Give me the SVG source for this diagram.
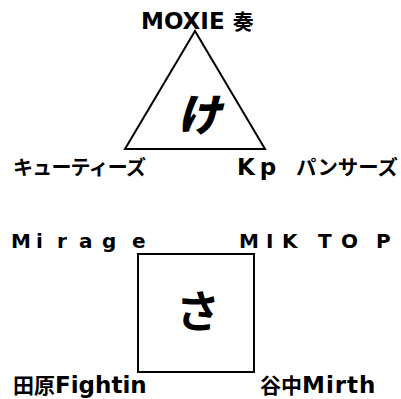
<svg xmlns="http://www.w3.org/2000/svg" width="401" height="399" viewBox="0 0 401 399">
<style>
.lbl{font-family:"DejaVu Sans","Noto Sans CJK JP",sans-serif;font-weight:bold;font-size:23px;fill:#000}
.cjk{font-family:"Noto Sans CJK JP",sans-serif;font-size:21px}
.sp{font-size:20px}
.big{font-family:"Noto Sans CJK JP",sans-serif;font-weight:900;font-size:44px;fill:#000;text-anchor:middle}
.shape{fill:none;stroke:#000;stroke-width:2}
</style>
<rect width="401" height="399" fill="#fff"/>
<g id="connectors"/>
<g id="triangle">
<polygon class="shape" points="195,31 125,149 265,149"/>
<text class="big" x="199" y="131" font-style="italic">け</text>
</g>
<g id="label-moxie"><text class="lbl" x="141" y="29">MOXIE <tspan class="cjk">奏</tspan></text></g>
<g id="label-cuties"><text class="lbl cjk" x="13" y="175" style="font-size:20px" letter-spacing="-0.8">キューティーズ</text></g>
<g id="label-kp"><text class="lbl" x="237" y="175"><tspan letter-spacing="5">Kp</tspan> <tspan class="cjk" x="296" style="font-size:20.4px">パンサーズ</tspan></text></g>
<g id="square">
<rect class="shape" x="138" y="254" width="116" height="118" stroke-width="1.5"/>
<text class="big" x="198" y="328" style="font-weight:bold">さ</text>
</g>
<g id="label-mirage"><text class="lbl sp" x="11 36 57 79 102 132" y="248">Mirage</text></g>
<g id="label-miktop"><text class="lbl sp" x="239 266 282 305 318 341 376" y="248">MIK TOP</text></g>
<g id="label-tahara"><text class="lbl" x="13" y="393"><tspan class="cjk">田原</tspan>Fightin</text></g>
<g id="label-yanaka"><text class="lbl" x="260" y="393"><tspan class="cjk">谷中</tspan><tspan letter-spacing="1">Mirth</tspan></text></g>
</svg>
